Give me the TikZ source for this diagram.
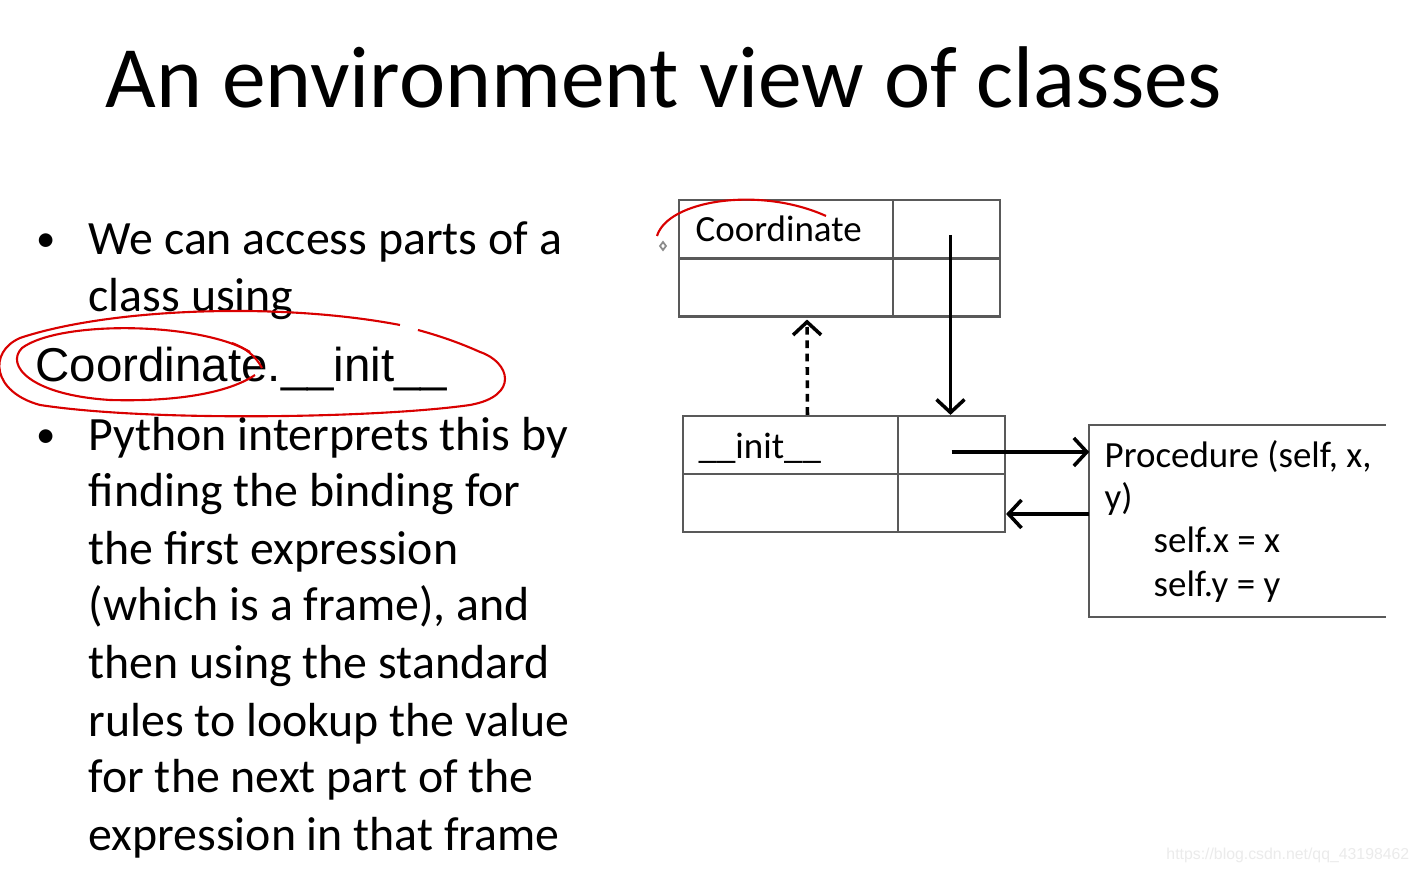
\documentclass[tikz,border=0pt]{standalone}
\usepackage{fontspec}
\setmainfont{Carlito}
\newfontfamily\arialfont{Liberation Sans}
\usetikzlibrary{arrows.meta,calc}

\tikzset{
  cell/.style={draw=black!65, line width=0.6pt, inner sep=0pt, minimum height=0.58cm},
  wide/.style={cell, minimum width=2.14cm},
  narrow/.style={cell, minimum width=1.07cm},
  bodytext/.style={anchor=base west, inner sep=0pt, font=\fontsize{13.6}{16}\selectfont},
  dot/.style={anchor=base west, inner sep=0pt, font=\fontsize{11}{13}\selectfont},
  celltext/.style={anchor=base west, inner sep=0pt, font=\fontsize{10.5}{13}\selectfont},
  link/.style={line width=1pt, -{Straight Barb[length=1.3mm,width=2.8mm]}},
  pen/.style={red!85!black, line width=0.6pt}
}

\begin{document}
\begin{tikzpicture}[x=0.01cm, y=-0.01cm]
  \useasboundingbox (0,0) rectangle (1420,871);
  \filldraw[fill=white, draw=none] (0,0) rectangle (1420,871);
  \node[anchor=base west, inner sep=0pt, font=\fontsize{24.9}{28}\selectfont] (title) at (105,108) {An environment view of classes};

  \node[dot] (b1) at (36,252) {•};
  \node[bodytext] (l1) at (88,255) {We can access parts of a};
  \node[bodytext] (l2) at (88,312) {class using};
  \node[anchor=base west, inner sep=0pt, font=\arialfont\fontsize{13.5}{16}\selectfont] (l3) at (35,382) {Coordinate.\_\_init\_\_};
  \node[dot] (b2) at (36,448) {•};
  \node[bodytext] (l4) at (88,451) {Python interprets this by};
  \node[bodytext] (l5) at (88,507) {finding the binding for};
  \node[bodytext] (l6) at (88,565) {the first expression};
  \node[bodytext] (l7) at (88,621) {(which is a frame), and};
  \node[bodytext] (l8) at (88,679) {then using the standard};
  \node[bodytext] (l9) at (88,737) {rules to lookup the value};
  \node[bodytext] (l10) at (88,793) {for the next part of the};
  \node[bodytext] (l11) at (88,851) {expression in that frame};

  \node[wide] (cname) at (786,229) {};
  \node[narrow] (cval) at (946.5,229) {};
  \node[wide] (cname2) at (786,287.5) {};
  \node[narrow] (cval2) at (946.5,287.5) {};
  \node[celltext] (clabel) at (695,242) {Coordinate};

  \node[wide] (iname) at (790.5,445) {};
  \node[narrow] (ival) at (951.5,445) {};
  \node[wide] (iname2) at (790.5,503) {};
  \node[narrow] (ival2) at (951.5,503) {};
  \node[celltext] (ilabel) at (698,459) {\_\_init\_\_};

  \node[inner sep=0pt, minimum width=2.95cm, minimum height=1.9cm] (proc) at (1237.5,521) {};
  \draw[black!65, line width=0.6pt] (proc.north east) -- (proc.north west) -- (proc.south west) -- (proc.south east);
  \node[celltext] (p1) at (1104,468) {Procedure (self, x,};
  \node[celltext] (p2) at (1104,510) {y)};
  \node[celltext] (p3) at (1153,553) {self.x = x};
  \node[celltext] (p4) at (1153,597) {self.y = y};

  \coordinate (dashstart) at ($(iname.north)+(17,0)$);
  \coordinate (dashend) at ($(cname2.south)+(21,2)$);
  \draw[link, dash pattern=on 2.2pt off 1.6pt] (dashstart) -- (dashend);
  \coordinate (downstart) at ($(cval.center)+(4,6)$);
  \draw[link] (downstart) -- (downstart |- iname.north);
  \coordinate (outstart) at ($(ival.center)+(0,7)$);
  \draw[link] (outstart) -- (outstart -| proc.west);
  \coordinate (backstart) at ($(proc.west)+(0,-7)$);
  \draw[link] (backstart) -- (backstart -| ival2.east);

  \draw[pen] (657,236) .. controls (668,200) and (760,186) .. (826,216);
  \draw[black!45, line width=0.5pt] (663,242) -- (666,246) -- (663,250) -- (660,246) -- cycle;

  \draw[pen] (400,325) .. controls (280,302) and (110,308) .. (20,338)
    .. controls (-12,352) and (-8,392) .. (40,405)
    .. controls (150,422) and (380,418) .. (470,405)
    .. controls (520,396) and (510,362) .. (480,352)
    .. controls (460,343) and (440,336) .. (418,330);
  \draw[pen] (250,352) .. controls (200,322) and (60,320) .. (22,348)
    .. controls (5,365) and (30,395) .. (110,400)
    .. controls (180,402) and (230,392) .. (255,375);
  \draw[pen] (232,343) .. controls (245,348) and (255,355) .. (262,368);

  \node[anchor=base east, inner sep=0pt, text=black!8, font=\arialfont\fontsize{4.5}{6}\selectfont] (mark) at (1410,860) {https://blog.csdn.net/qq\_43198462};
\end{tikzpicture}
\end{document}
